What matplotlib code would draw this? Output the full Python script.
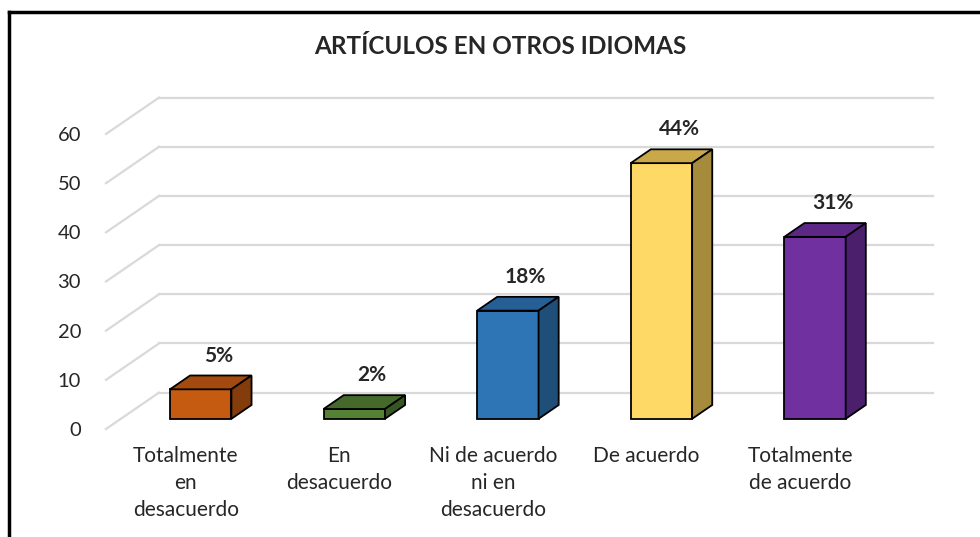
import matplotlib.pyplot as plt
from matplotlib.patches import Polygon
from matplotlib.lines import Line2D

categorias = ['Totalmente\nen\ndesacuerdo', 'En\ndesacuerdo', 'Ni de acuerdo\nni en\ndesacuerdo',
              'De acuerdo', 'Totalmente\nde acuerdo']
valores = [6, 2, 22, 52, 37]
porcentajes = ['5%', '2%', '18%', '44%', '31%']
yticks = [0, 10, 20, 30, 40, 50, 60]

frente = ['#C55A11', '#548235', '#2E75B6', '#FFD966', '#7030A0']
arriba = ['#A34A0E', '#44692B', '#265F95', '#C9A84A', '#5C2785']
lado = ['#843C0C', '#375623', '#1F4E79', '#A68B3C', '#4B1F6B']

plt.rcParams['font.family'] = ['Lato', 'DejaVu Sans']

W, H = 980, 537
fig = plt.figure(figsize=(W / 100, H / 100), dpi=100)
ax = fig.add_axes([106 / W, 108 / H, 774 / W, 295 / H])
ax.set_xlim(-0.52, 4.52)
ax.set_ylim(0, 60)

# profundidad del "3D" en unidades de datos
DX, DY = 0.345, 7.4
f0, f1 = 0.28, 0.66
ancho = 0.40
grid_c = '#D9D9D9'

# pared del fondo y pared lateral
for t in yticks:
    ax.add_line(Line2D([-0.52 + DX, 4.52 + DX], [t + DY, t + DY], color=grid_c, lw=1.6,
                       clip_on=False, zorder=1))
    ax.add_line(Line2D([-0.52, -0.52 + DX], [t, t + DY], color=grid_c, lw=1.6,
                       clip_on=False, zorder=1))

for i, v in enumerate(valores):
    x0 = i - ancho / 2 + f0 * DX
    y0 = f0 * DY
    dx, dy = (f1 - f0) * DX, (f1 - f0) * DY
    ax.bar(x0, v, width=ancho, bottom=y0, align='edge', color=frente[i],
           edgecolor='black', lw=1.3, zorder=3, clip_on=False)
    top = [(x0, y0 + v), (x0 + ancho, y0 + v), (x0 + ancho + dx, y0 + v + dy), (x0 + dx, y0 + v + dy)]
    side = [(x0 + ancho, y0), (x0 + ancho + dx, y0 + dy), (x0 + ancho + dx, y0 + v + dy), (x0 + ancho, y0 + v)]
    ax.add_patch(Polygon(top, closed=True, fc=arriba[i], ec='black', lw=1.3, zorder=3, clip_on=False))
    ax.add_patch(Polygon(side, closed=True, fc=lado[i], ec='black', lw=1.3, zorder=3, clip_on=False))
    ax.text(x0 + ancho / 2 + dx / 2 + 0.05, y0 + v + dy + 2.0, porcentajes[i], ha='center', va='bottom',
            fontsize=15, fontweight='bold', color='#262626', zorder=4)

ax.set_yticks(yticks)
ax.set_xticks(range(len(categorias)))
ax.set_xticklabels(categorias, fontsize=15, color='#262626', linespacing=1.45, va='top')
ax.tick_params(axis='y', length=0, pad=18, labelsize=14.5, labelcolor='#262626')
ax.tick_params(axis='x', length=0, pad=12)
for s in ax.spines.values():
    s.set_visible(False)
ax.patch.set_alpha(0)

fig.text(500 / W, 1 - 47 / H, 'ARTÍCULOS EN OTROS IDIOMAS', ha='center', va='center',
         fontsize=17.5, fontweight='bold', color='#262626')

# marco (recortado a la derecha y abajo)
fig.add_artist(Line2D([8.5 / W, 8.5 / W], [0, 1 - 11.5 / H], color='black', lw=2.5, transform=fig.transFigure))
fig.add_artist(Line2D([8.5 / W, 1], [1 - 11.5 / H, 1 - 11.5 / H], color='black', lw=2.5, transform=fig.transFigure))

fig.savefig('out.png', dpi=100)
